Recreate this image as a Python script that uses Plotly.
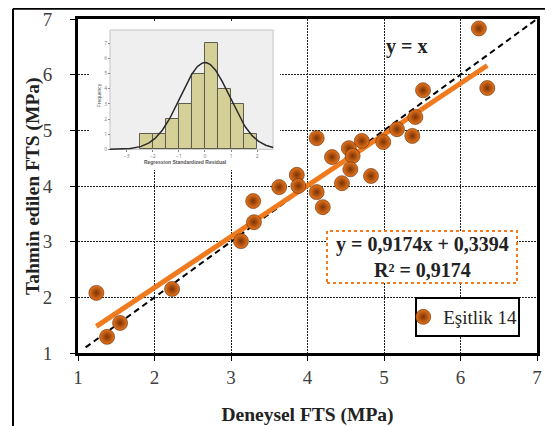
import numpy as np
import plotly.graph_objects as go

# ---- main data (Deneysel vs Tahmin edilen FTS, MPa) ----
deneysel = [1.24, 1.38, 1.55, 2.23, 3.13, 3.30, 3.29, 3.63, 3.86, 3.88, 4.12, 4.12, 4.20, 4.32,
            4.45, 4.54, 4.59, 4.56, 4.71, 4.83, 4.99, 5.17, 5.37, 5.41, 5.51, 6.24, 6.35]
tahmin = [2.08, 1.29, 1.54, 2.15, 3.01, 3.35, 3.73, 3.98, 4.20, 4.00, 4.86, 3.89, 3.62, 4.52,
          4.05, 4.68, 4.54, 4.30, 4.81, 4.18, 4.79, 5.02, 4.90, 5.24, 5.72, 6.83, 5.76]
slope = 0.9174
intercept = 0.3394
r2 = 0.9174
yx_start = 1.1
axis_ticks = [1, 2, 3, 4, 5, 6, 7]

# ---- inset histogram (Regression Standardized Residual) ----
bin_centers = [-2.25, -1.75, -1.25, -0.75, -0.25, 0.25, 0.75, 1.25, 1.75]
bin_counts = [1, 1, 2, 3, 5, 7, 4, 3, 1]
bin_width = 0.5
resid_mean = 0.0
resid_sd = 0.94
inset_xticks = [-3, -2, -1, 0, 1, 2]
inset_yticks = [0, 1, 2, 3, 4, 5, 6, 7]

SERIF = "Liberation Serif, Times New Roman, serif"

fig = go.Figure()

# y = x reference line
fig.add_trace(go.Scatter(x=[yx_start, 7], y=[yx_start, 7], mode="lines",
                         line=dict(color="black", width=2, dash="6px,4px"),
                         showlegend=False, hoverinfo="skip"))
# regression line
xfit = np.array([min(deneysel), max(deneysel)])
fig.add_trace(go.Scatter(x=xfit, y=slope * xfit + intercept, mode="lines",
                         line=dict(color="#F07A1E", width=5),
                         showlegend=False, hoverinfo="skip"))
# points
fig.add_trace(go.Scatter(x=deneysel, y=tahmin, mode="markers", name="Eşitlik 14",
                         marker=dict(size=15, color="#E8751C",
                                     gradient=dict(type="radial", color="#7A3205"),
                                     line=dict(color="#5E2804", width=0.6))))

# inset histogram
fig.add_trace(go.Bar(x=bin_centers, y=bin_counts, width=bin_width, xaxis="x2", yaxis="y2",
                     marker=dict(color="#D5D098", line=dict(color="#5E5E50", width=1)),
                     showlegend=False, hoverinfo="skip"))
xs = np.linspace(-3.64, 2.61, 200)
pdf = len(deneysel) * bin_width / (resid_sd * np.sqrt(2 * np.pi)) * np.exp(-0.5 * ((xs - resid_mean) / resid_sd) ** 2)
fig.add_trace(go.Scatter(x=xs, y=pdf, mode="lines", xaxis="x2", yaxis="y2",
                         line=dict(color="#2A2A2A", width=1.5),
                         showlegend=False, hoverinfo="skip"))

tickfont = dict(family=SERIF, size=19, color="#404040")
fig.update_layout(
    width=545, height=418,
    margin=dict(l=70, r=16, t=11, b=73),
    paper_bgcolor="white", plot_bgcolor="white",
    xaxis=dict(range=[1, 7], tickvals=axis_ticks, showgrid=True, gridcolor="#222222",
               gridwidth=1, griddash="2px,1px", showline=True, linecolor="black", linewidth=3,
               mirror=True, ticks="outside", ticklen=5, tickcolor="black", tickfont=tickfont,
               zeroline=False, ticklabelstandoff=0, automargin=False,
               title=dict(text="<b>Deneysel FTS (MPa)</b>", font=dict(family=SERIF, size=19.5, color="#222"),
                          standoff=27)),
    yaxis=dict(range=[1, 7], tickvals=axis_ticks, showgrid=True, gridcolor="#222222",
               gridwidth=1, griddash="2px,1px", showline=True, linecolor="black", linewidth=3,
               mirror=True, ticks="outside", ticklen=5, tickcolor="black", tickfont=tickfont,
               zeroline=False, ticklabelstandoff=14, automargin=False),
    xaxis2=dict(domain=[0.02614, 0.4401], range=[-4.406, 2.874], anchor="free", position=0.6099,
                tickvals=inset_xticks, showgrid=False, zeroline=False, showline=False,
                ticks="outside", ticklen=2, tickcolor="#888", tickfont=dict(size=5, color="#777"),
                automargin=False,
                title=dict(text="<b>Regression Standardized Residual</b>", font=dict(family="Arial, sans-serif", size=5, color="#555"),
                           standoff=1)),
    yaxis2=dict(domain=[0.5479, 0.994], range=[-1.367, 8.474], anchor="free", position=0.0697,
                tickvals=inset_yticks, showgrid=False, zeroline=False, showline=False,
                ticks="outside", ticklen=2, tickcolor="#888", tickfont=dict(size=5, color="#777"),
                automargin=False,
                title=dict(text="Frequency", font=dict(family="Arial, sans-serif", size=5, color="#555"),
                           standoff=1)),
    legend=dict(x=0.7086, xanchor="left", y=0.1078, yanchor="middle", bgcolor="rgba(0,0,0,0)",
                borderwidth=0, font=dict(family=SERIF, size=19, color="#222"),
                itemwidth=30, tracegroupgap=0),
    bargap=0,
)

# y-axis title
fig.add_annotation(xref="paper", yref="paper", x=-0.098, y=0.5, showarrow=False,
                   xanchor="center", yanchor="middle", textangle=-90,
                   text="<b>Tahmin edilen FTS (MPa)</b>", font=dict(family=SERIF, size=19.5, color="#222"))
# inset grey plotting area
fig.add_shape(type="rect", xref="x2", yref="y2", x0=-3.64, x1=2.61, y0=0, y1=7.88,
              fillcolor="#EFEFEF", line=dict(color="#C4C4C4", width=1), layer="below")
# equation box
fig.add_shape(type="rect", xref="paper", yref="paper", x0=0.5425, x1=0.9564, y0=0.2096, y1=0.3653,
              fillcolor="white", line=dict(color="#F07A1E", width=2, dash="dot"), layer="above")
fig.add_annotation(xref="paper", yref="paper", x=0.7495, y=0.2874, showarrow=False,
                   xanchor="center", yanchor="middle",
                   text=f"<b>y = {str(slope).replace('.', ',')}x + {str(intercept).replace('.', ',')}<br>R² = {str(r2).replace('.', ',')}</b>",
                   font=dict(family=SERIF, size=20, color="#222"), align="center")
fig.add_annotation(xref="paper", yref="paper", x=0.7146, y=0.919, showarrow=False,
                   xanchor="center", yanchor="middle",
                   text="<b>y = x</b>", font=dict(family=SERIF, size=20, color="#222"))
# legend frame
fig.add_shape(type="rect", xref="paper", yref="paper", x0=0.7364, x1=0.9608, y0=0.0509, y1=0.1647,
              fillcolor="white", line=dict(color="black", width=2), layer="above")
# outer frame (left & top edges visible)
fig.add_shape(type="line", xref="paper", yref="paper", x0=-0.1416, x1=-0.1416, y0=1.031, y1=-0.25,
              line=dict(color="black", width=2))
fig.add_shape(type="line", xref="paper", yref="paper", x0=-0.1416, x1=1.06, y0=1.031, y1=1.031,
              line=dict(color="black", width=2))

fig.write_html("out.html")
